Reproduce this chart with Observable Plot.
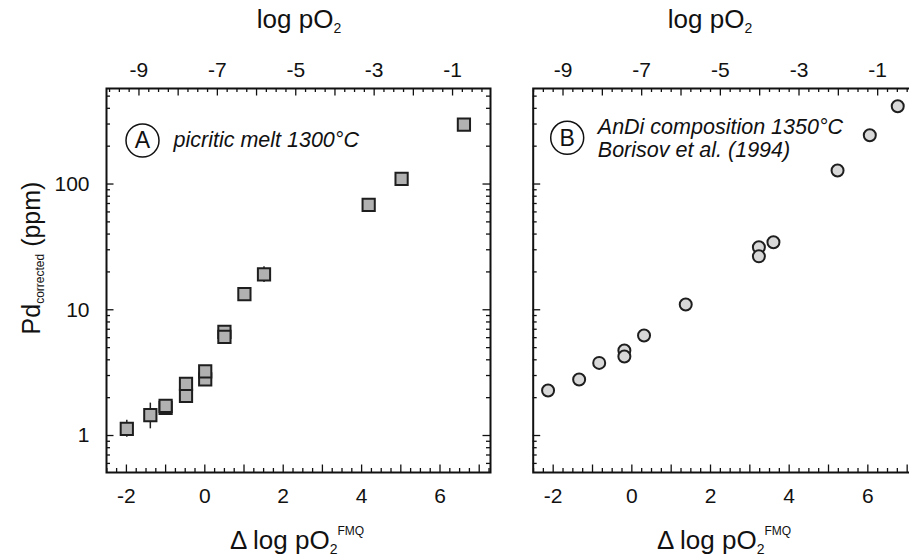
<!DOCTYPE html>
<html><head><meta charset="utf-8">
<script src="https://cdn.jsdelivr.net/npm/d3@7"></script>
<script src="https://cdn.jsdelivr.net/npm/@observablehq/plot@0.6"></script>
<style>
html,body{margin:0;padding:0;background:#fff;overflow:hidden;}
#wrap{position:relative;width:909px;height:556px;overflow:hidden;background:#fff;}
#wrap svg{position:absolute;top:0;max-width:none;}
</style></head><body><div id="wrap"></div>
<script>
// ---------- data ----------
// Panel A: picritic melt 1300°C (squares)
const deltaA = [6.61, 5.02, 4.18, 1.51, 1.01, 0.50, 0.50, 0.01, 0.01, -0.48, -0.48, -1.00, -1.00, -1.39, -1.99];
const pdA    = [297, 110, 68.2, 19.1, 13.3, 6.68, 6.10, 2.79, 3.24, 2.07, 2.57, 1.66, 1.72, 1.45, 1.13];
// error bars, panel A
const errDeltaA = [1.51, -1.39, -1.99];
const errLoA    = [16.5, 1.13, 0.97];
const errHiA    = [22.0, 1.81, 1.32];
// Panel B: AnDi composition 1350°C, Borisov et al. (1994) (circles)
const deltaB = [6.76, 6.05, 5.23, 3.60, 3.23, 3.23, 1.37, 0.31, -0.19, -0.19, -0.83, -1.34, -2.13];
const pdB    = [415, 244, 128, 34.4, 31.4, 26.6, 11.0, 6.24, 4.74, 4.25, 3.78, 2.79, 2.28];
// axis ticks / labels
const bottomLabels = [-2, 0, 2, 4, 6];
const topLabels = [-9, -7, -5, -3, -1];
const yLabels = [1, 10, 100];
const yMinor = [0.6, 0.7, 0.8, 0.9, 2, 3, 4, 5, 6, 7, 8, 9, 20, 30, 40, 50, 60, 70, 80, 90, 200, 300, 400, 500];
// log pO2 of the FMQ buffer at each temperature (top axis offset)
const fmqA = -7.32;
const fmqB = -7.25;

// ---------- layout ----------
const H = 556, mTop = 88, mBottom = 84;
const xDomain = [-2.508, 7.288];
const yDomain = [0.508, 575];
const font = "Liberation Sans, Arial, sans-serif";
const tickFont = 21, titleFont = 26, noteFont = 21.5;

function range(a, b, s) { const out = []; for (let v = a; v <= b + 1e-9; v += s) out.push(+v.toFixed(4)); return out; }

function tickMarks(innerW, innerH, fmq) {
  const L = 7.5, l = 4, sw = 1.3, st = "#111";
  const inX = v => v >= xDomain[0] && v <= xDomain[1];
  const xMaj = range(-2, 7, 1).filter(inX);
  const xMin = range(-2.5, 7.25, 0.25).filter(inX).filter(v => !Number.isInteger(v));
  const tMaj = range(-10, 0, 1).map(v => v - fmq).filter(inX);
  const tMin = range(-10, 0, 0.25).filter(v => !Number.isInteger(v)).map(v => v - fmq).filter(inX);
  return [
    Plot.tickX(xMaj, {x: d => d, insetTop: innerH - L, stroke: st, strokeWidth: sw}),
    Plot.tickX(xMin, {x: d => d, insetTop: innerH - l, stroke: st, strokeWidth: sw}),
    Plot.tickX(tMaj, {x: d => d, insetBottom: innerH - L, stroke: st, strokeWidth: sw}),
    Plot.tickX(tMin, {x: d => d, insetBottom: innerH - l, stroke: st, strokeWidth: sw}),
    Plot.tickY(yLabels, {y: d => d, insetRight: innerW - L, stroke: st, strokeWidth: sw}),
    Plot.tickY(yMinor, {y: d => d, insetRight: innerW - l, stroke: st, strokeWidth: sw}),
    Plot.tickY(yLabels, {y: d => d, insetLeft: innerW - L, stroke: st, strokeWidth: sw}),
    Plot.tickY(yMinor, {y: d => d, insetLeft: innerW - l, stroke: st, strokeWidth: sw})
  ];
}

function axisText(fmq, withY) {
  const m = [
    Plot.text(bottomLabels, {x: d => d, text: d => String(d), frameAnchor: "bottom", dy: 24, textAnchor: "middle", lineAnchor: "middle", fontSize: tickFont, fill: "#111"}),
    Plot.text(topLabels, {x: d => d - fmq, text: d => String(d), frameAnchor: "top", dy: -18, textAnchor: "middle", lineAnchor: "middle", fontSize: tickFont, fill: "#111"})
  ];
  if (withY) m.push(Plot.text(yLabels, {y: d => d, text: d => String(d), frameAnchor: "left", dx: -17, textAnchor: "end", lineAnchor: "middle", fontSize: tickFont, fill: "#111"}));
  return m;
}

// ---------- panel A ----------
const wA = 500, mlA = 106, mrA = 10;
const dataA = deltaA.map((d, i) => ({d, pd: pdA[i]}));
const errA = errDeltaA.map((d, i) => ({d, lo: errLoA[i], hi: errHiA[i]}));
const plotA = Plot.plot({
  width: wA, height: H, marginLeft: mlA, marginRight: mrA, marginTop: mTop, marginBottom: mBottom,
  style: {fontFamily: font, background: "white", overflow: "visible"},
  x: {domain: xDomain, axis: null},
  y: {type: "log", domain: yDomain, axis: null},
  marks: [
    ...tickMarks(wA - mlA - mrA, H - mTop - mBottom, fmqA),
    Plot.ruleX(errA, {x: "d", y1: "lo", y2: "hi", stroke: "#222", strokeWidth: 1.5}),
    Plot.dot(dataA, {x: "d", y: "pd", symbol: "square", r: 6.9, fill: "#b1b1b1", stroke: "#1e1e1e", strokeWidth: 2}),
    Plot.frame({stroke: "#111", strokeWidth: 2}),
    ...axisText(fmqA, true),
    Plot.dot([0], {frameAnchor: "top-left", dx: 36, dy: 52, r: 16.5, fill: "none", stroke: "#111", strokeWidth: 1.5}),
    Plot.text(["A"], {frameAnchor: "top-left", dx: 36, dy: 52.5, textAnchor: "middle", lineAnchor: "middle", fontSize: 23, fill: "#111"}),
    Plot.text(["picritic melt 1300°C"], {frameAnchor: "top-left", dx: 67, dy: 58.7, textAnchor: "start", lineAnchor: "bottom", fontSize: noteFont, fontStyle: "italic", fill: "#111"})
  ]
});

// ---------- panel B ----------
const leftB = 500, wB = 418, mlB = 32.7, mrB = 0;
const dataB = deltaB.map((d, i) => ({d, pd: pdB[i]}));
const plotB = Plot.plot({
  width: wB, height: H, marginLeft: mlB, marginRight: mrB, marginTop: mTop, marginBottom: mBottom,
  style: {fontFamily: font, background: "white", overflow: "visible"},
  x: {domain: xDomain, axis: null},
  y: {type: "log", domain: yDomain, axis: null},
  marks: [
    ...tickMarks(wB - mlB - mrB, H - mTop - mBottom, fmqB),
    Plot.dot(dataB, {x: "d", y: "pd", r: 6, fill: "#d8d8d8", stroke: "#1e1e1e", strokeWidth: 2}),
    Plot.frame({stroke: "#111", strokeWidth: 2}),
    ...axisText(fmqB, false),
    Plot.dot([0], {frameAnchor: "top-left", dx: 34, dy: 49.3, r: 16.5, fill: "none", stroke: "#111", strokeWidth: 1.5}),
    Plot.text(["B"], {frameAnchor: "top-left", dx: 34, dy: 49.8, textAnchor: "middle", lineAnchor: "middle", fontSize: 23, fill: "#111"}),
    Plot.text(["AnDi composition 1350°C"], {frameAnchor: "top-left", dx: 64.6, dy: 45.3, textAnchor: "start", lineAnchor: "bottom", fontSize: noteFont, fontStyle: "italic", fill: "#111"}),
    Plot.text(["Borisov et al. (1994)"], {frameAnchor: "top-left", dx: 64.6, dy: 68, textAnchor: "start", lineAnchor: "bottom", fontSize: noteFont, fontStyle: "italic", fill: "#111"})
  ]
});

const wrap = document.getElementById("wrap");
plotA.style.left = "0px";
plotB.style.left = leftB + "px";
wrap.appendChild(plotA);
wrap.appendChild(plotB);

// ---------- axis titles (with sub/superscripts) ----------
function topTitle(svg, cx) {
  const t = d3.select(svg).append("text").attr("x", cx).attr("y", 28)
    .attr("text-anchor", "middle").attr("font-family", font).attr("font-size", titleFont).attr("fill", "#111");
  t.append("tspan").text("log pO");
  t.append("tspan").attr("font-size", 14).attr("dy", 5).text("2");
}
function bottomTitle(svg, cx) {
  const t = d3.select(svg).append("text").attr("x", cx).attr("y", 549)
    .attr("text-anchor", "middle").attr("font-family", font).attr("font-size", titleFont).attr("fill", "#111");
  t.append("tspan").text("\u0394 log pO");
  t.append("tspan").attr("font-size", 14).attr("dy", 5).text("2");
  t.append("tspan").attr("font-size", 12).attr("dy", -19).text("FMQ");
}
topTitle(plotA, 299);
bottomTitle(plotA, 297);
topTitle(plotB, 210);
bottomTitle(plotB, 224);
{
  const t = d3.select(plotA).append("text").attr("transform", "translate(40,258) rotate(-90)")
    .attr("text-anchor", "middle").attr("font-family", font).attr("font-size", 25).attr("fill", "#111");
  t.append("tspan").text("Pd");
  t.append("tspan").attr("font-size", 12).attr("dy", 4).text("corrected");
  t.append("tspan").attr("dy", -4).text(" (ppm)");
}
</script></body></html>
